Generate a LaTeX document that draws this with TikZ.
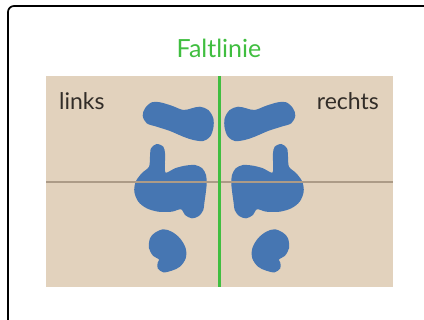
\documentclass[tikz,border=0pt]{standalone}
\usepackage{fontspec}
\setmainfont{Lato}
\definecolor{paper}{RGB}{226,210,189}
\definecolor{ink}{RGB}{70,118,178}
\definecolor{fold}{RGB}{64,190,64}
\definecolor{crease}{RGB}{172,155,135}
\definecolor{word}{RGB}{50,45,40}
\begin{document}
\begin{tikzpicture}[x=1pt, y=-1pt, line join=round, line cap=round,
    blob/.style={fill=ink, draw=none},
    label/.style={font=\fontsize{23}{26}\selectfont, text=word, inner sep=0pt}]
    \useasboundingbox (0,0) rectangle (424,320);
    \clip (0,0) rectangle (424,320);
    \draw[line width=1.7pt, rounded corners=6pt] (8,6) rectangle (440,340);
    \node[font=\fontsize{25}{28}\selectfont, text=fold, inner sep=0pt, anchor=base] (titel) at (219,58) {Faltlinie};
    \fill[paper] (46,76) rectangle (393,287);
    \node[label, anchor=base west] (links) at (59,110) {links};
    \node[label, anchor=base east] (rechts) at (379,110) {rechts};
    \foreach \s in {1,-1}{
        \begin{scope}[shift={(219,0)}, xscale=\s]
            % oben
            \fill[blob] plot[smooth cycle, tension=.55] coordinates {
                (-74,108.3) (-67.3,102.3) (-59,102.3) (-47.3,105.7) (-35.7,110)
                (-27.3,108.3) (-19,106.7) (-10.7,110) (-5.7,118.3) (-5.7,128.3)
                (-9,136.7) (-15.7,141) (-25.7,140) (-35.7,136.7) (-49,131)
                (-62.3,126.7) (-72.3,123.3) (-76.3,115.7)};
            % Mitte
            \fill[blob] plot[smooth cycle, tension=.5] coordinates {
                (-62.3,144) (-55.7,146.7) (-54,153.3) (-54,163.3) (-53.3,172.7)
                (-44,168.3) (-34,165.7) (-24,165) (-16.7,168.3) (-13,175)
                (-12.3,183.3) (-13.3,193.3) (-14.7,203.3) (-15.7,210) (-20,216)
                (-27.3,218.3) (-34,215) (-38,209.3) (-47.3,211.7) (-60.7,211.7)
                (-72.3,208.3) (-80.7,201.7) (-84.7,191.7) (-83.3,181.7) (-77.3,173.3)
                (-70,166.7) (-69,156.7) (-68,148.3)};
            % unten
            \fill[blob] plot[smooth cycle, tension=.55] coordinates {
                (-64,232.7) (-55.7,229.3) (-47.3,231.7) (-39,238.3) (-33.3,248.3)
                (-33.3,258.3) (-39,266.7) (-47.3,270.7) (-55.7,272.3) (-61.3,268.3)
                (-61.3,262.7) (-60,259.3) (-65.7,256) (-70,248.3) (-69,238.3)};
        \end{scope}
    }
    \coordinate (w) at (46,182);
    \coordinate (o) at (393,182);
    \coordinate (n) at (219,76);
    \coordinate (s) at (219,287);
    \draw[crease, line width=2.4pt, line cap=butt] (w) -- (o);
    \draw[fold, line width=3pt, line cap=butt] (n) -- (s);
\end{tikzpicture}
\end{document}
